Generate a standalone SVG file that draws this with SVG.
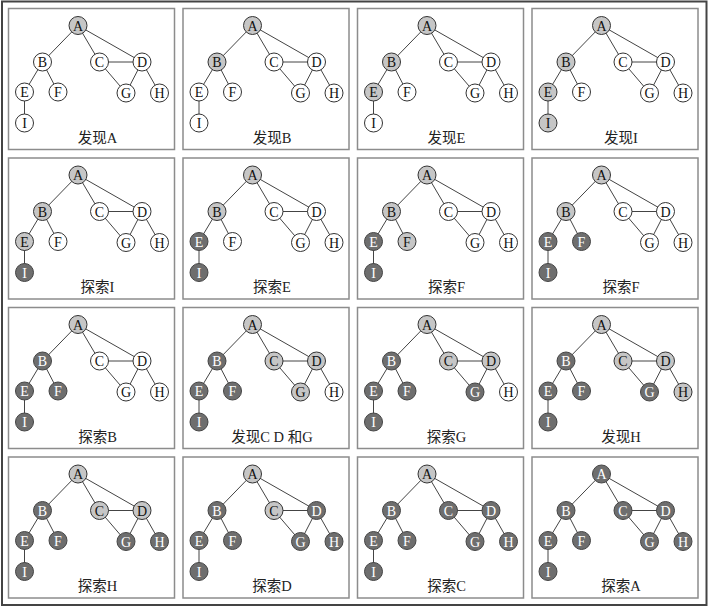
<svg xmlns="http://www.w3.org/2000/svg" xmlns:xlink="http://www.w3.org/1999/xlink" width="708" height="608" viewBox="0 0 708 608">
<style>
.frame{fill:#fff;stroke:#8c8c8c;stroke-width:1.5}
.outer{fill:#fff;stroke:#444;stroke-width:2}
.edge{stroke:#444;stroke-width:1;fill:none}
.node circle{stroke:#333;stroke-width:1;r:9px}
.w circle{fill:#fff}
.g circle{fill:#c6c6c6}
.d circle{fill:#6e6e6e;stroke:#444}
.node text{font-family:"Liberation Serif","Noto Sans CJK SC",serif;font-size:14px;text-anchor:middle}
.w text,.g text{fill:#111}
.d text{fill:#fff}
.cap{font-family:"Liberation Serif","Noto Sans CJK SC",serif;font-size:14.5px;text-anchor:middle;fill:#222}
</style>
<defs>
<g id="edges" class="edge">
<line x1="69.5" y1="17" x2="34" y2="53.5"/>
<line x1="69.5" y1="17" x2="91" y2="53.5"/>
<line x1="69.5" y1="17" x2="133.5" y2="53.5"/>
<line x1="34" y1="53.5" x2="16" y2="83.5"/>
<line x1="34" y1="53.5" x2="49.5" y2="83.5"/>
<line x1="91" y1="53.5" x2="133.5" y2="53.5"/>
<line x1="91" y1="53.5" x2="117.5" y2="84.5"/>
<line x1="133.5" y1="53.5" x2="117.5" y2="84.5"/>
<line x1="133.5" y1="53.5" x2="151" y2="84.5"/>
<line x1="16" y1="83.5" x2="16" y2="114.5"/>
</g>
</defs>
<rect class="outer" x="2" y="1.5" width="704.5" height="603.5"/>

<g id="panel1" transform="translate(8.5,8.5)">
<rect class="frame" width="166" height="141"/>
<g id="p1-edges"><use xlink:href="#edges"/></g>
<g id="p1-A" class="node g"><circle cx="69.5" cy="17" r="9"/><text x="69.5" y="22">A</text></g>
<g id="p1-B" class="node w"><circle cx="34" cy="53.5" r="9"/><text x="34" y="58.5">B</text></g>
<g id="p1-C" class="node w"><circle cx="91" cy="53.5" r="9"/><text x="91" y="58.5">C</text></g>
<g id="p1-D" class="node w"><circle cx="133.5" cy="53.5" r="9"/><text x="133.5" y="58.5">D</text></g>
<g id="p1-E" class="node w"><circle cx="16" cy="83.5" r="9"/><text x="16" y="88.5">E</text></g>
<g id="p1-F" class="node w"><circle cx="49.5" cy="83.5" r="9"/><text x="49.5" y="88.5">F</text></g>
<g id="p1-G" class="node w"><circle cx="117.5" cy="84.5" r="9"/><text x="117.5" y="89.5">G</text></g>
<g id="p1-H" class="node w"><circle cx="151" cy="84.5" r="9"/><text x="151" y="89.5">H</text></g>
<g id="p1-I" class="node w"><circle cx="16" cy="114.5" r="9"/><text x="16" y="119.5">I</text></g>
<text class="cap" x="89" y="134">发现A</text>
</g>

<g id="panel2" transform="translate(183,8.5)">
<rect class="frame" width="166" height="141"/>
<g id="p2-edges"><use xlink:href="#edges"/></g>
<g id="p2-A" class="node g"><circle cx="69.5" cy="17" r="9"/><text x="69.5" y="22">A</text></g>
<g id="p2-B" class="node g"><circle cx="34" cy="53.5" r="9"/><text x="34" y="58.5">B</text></g>
<g id="p2-C" class="node w"><circle cx="91" cy="53.5" r="9"/><text x="91" y="58.5">C</text></g>
<g id="p2-D" class="node w"><circle cx="133.5" cy="53.5" r="9"/><text x="133.5" y="58.5">D</text></g>
<g id="p2-E" class="node w"><circle cx="16" cy="83.5" r="9"/><text x="16" y="88.5">E</text></g>
<g id="p2-F" class="node w"><circle cx="49.5" cy="83.5" r="9"/><text x="49.5" y="88.5">F</text></g>
<g id="p2-G" class="node w"><circle cx="117.5" cy="84.5" r="9"/><text x="117.5" y="89.5">G</text></g>
<g id="p2-H" class="node w"><circle cx="151" cy="84.5" r="9"/><text x="151" y="89.5">H</text></g>
<g id="p2-I" class="node w"><circle cx="16" cy="114.5" r="9"/><text x="16" y="119.5">I</text></g>
<text class="cap" x="89" y="134">发现B</text>
</g>

<g id="panel3" transform="translate(357.5,8.5)">
<rect class="frame" width="166" height="141"/>
<g id="p3-edges"><use xlink:href="#edges"/></g>
<g id="p3-A" class="node g"><circle cx="69.5" cy="17" r="9"/><text x="69.5" y="22">A</text></g>
<g id="p3-B" class="node g"><circle cx="34" cy="53.5" r="9"/><text x="34" y="58.5">B</text></g>
<g id="p3-C" class="node w"><circle cx="91" cy="53.5" r="9"/><text x="91" y="58.5">C</text></g>
<g id="p3-D" class="node w"><circle cx="133.5" cy="53.5" r="9"/><text x="133.5" y="58.5">D</text></g>
<g id="p3-E" class="node g"><circle cx="16" cy="83.5" r="9"/><text x="16" y="88.5">E</text></g>
<g id="p3-F" class="node w"><circle cx="49.5" cy="83.5" r="9"/><text x="49.5" y="88.5">F</text></g>
<g id="p3-G" class="node w"><circle cx="117.5" cy="84.5" r="9"/><text x="117.5" y="89.5">G</text></g>
<g id="p3-H" class="node w"><circle cx="151" cy="84.5" r="9"/><text x="151" y="89.5">H</text></g>
<g id="p3-I" class="node w"><circle cx="16" cy="114.5" r="9"/><text x="16" y="119.5">I</text></g>
<text class="cap" x="89" y="134">发现E</text>
</g>

<g id="panel4" transform="translate(532,8.5)">
<rect class="frame" width="166" height="141"/>
<g id="p4-edges"><use xlink:href="#edges"/></g>
<g id="p4-A" class="node g"><circle cx="69.5" cy="17" r="9"/><text x="69.5" y="22">A</text></g>
<g id="p4-B" class="node g"><circle cx="34" cy="53.5" r="9"/><text x="34" y="58.5">B</text></g>
<g id="p4-C" class="node w"><circle cx="91" cy="53.5" r="9"/><text x="91" y="58.5">C</text></g>
<g id="p4-D" class="node w"><circle cx="133.5" cy="53.5" r="9"/><text x="133.5" y="58.5">D</text></g>
<g id="p4-E" class="node g"><circle cx="16" cy="83.5" r="9"/><text x="16" y="88.5">E</text></g>
<g id="p4-F" class="node w"><circle cx="49.5" cy="83.5" r="9"/><text x="49.5" y="88.5">F</text></g>
<g id="p4-G" class="node w"><circle cx="117.5" cy="84.5" r="9"/><text x="117.5" y="89.5">G</text></g>
<g id="p4-H" class="node w"><circle cx="151" cy="84.5" r="9"/><text x="151" y="89.5">H</text></g>
<g id="p4-I" class="node g"><circle cx="16" cy="114.5" r="9"/><text x="16" y="119.5">I</text></g>
<text class="cap" x="89" y="134">发现I</text>
</g>

<g id="panel5" transform="translate(8.5,158)">
<rect class="frame" width="166" height="141"/>
<g id="p5-edges"><use xlink:href="#edges"/></g>
<g id="p5-A" class="node g"><circle cx="69.5" cy="17" r="9"/><text x="69.5" y="22">A</text></g>
<g id="p5-B" class="node g"><circle cx="34" cy="53.5" r="9"/><text x="34" y="58.5">B</text></g>
<g id="p5-C" class="node w"><circle cx="91" cy="53.5" r="9"/><text x="91" y="58.5">C</text></g>
<g id="p5-D" class="node w"><circle cx="133.5" cy="53.5" r="9"/><text x="133.5" y="58.5">D</text></g>
<g id="p5-E" class="node g"><circle cx="16" cy="83.5" r="9"/><text x="16" y="88.5">E</text></g>
<g id="p5-F" class="node w"><circle cx="49.5" cy="83.5" r="9"/><text x="49.5" y="88.5">F</text></g>
<g id="p5-G" class="node w"><circle cx="117.5" cy="84.5" r="9"/><text x="117.5" y="89.5">G</text></g>
<g id="p5-H" class="node w"><circle cx="151" cy="84.5" r="9"/><text x="151" y="89.5">H</text></g>
<g id="p5-I" class="node d"><circle cx="16" cy="114.5" r="9"/><text x="16" y="119.5">I</text></g>
<text class="cap" x="89" y="134">探索I</text>
</g>

<g id="panel6" transform="translate(183,158)">
<rect class="frame" width="166" height="141"/>
<g id="p6-edges"><use xlink:href="#edges"/></g>
<g id="p6-A" class="node g"><circle cx="69.5" cy="17" r="9"/><text x="69.5" y="22">A</text></g>
<g id="p6-B" class="node g"><circle cx="34" cy="53.5" r="9"/><text x="34" y="58.5">B</text></g>
<g id="p6-C" class="node w"><circle cx="91" cy="53.5" r="9"/><text x="91" y="58.5">C</text></g>
<g id="p6-D" class="node w"><circle cx="133.5" cy="53.5" r="9"/><text x="133.5" y="58.5">D</text></g>
<g id="p6-E" class="node d"><circle cx="16" cy="83.5" r="9"/><text x="16" y="88.5">E</text></g>
<g id="p6-F" class="node w"><circle cx="49.5" cy="83.5" r="9"/><text x="49.5" y="88.5">F</text></g>
<g id="p6-G" class="node w"><circle cx="117.5" cy="84.5" r="9"/><text x="117.5" y="89.5">G</text></g>
<g id="p6-H" class="node w"><circle cx="151" cy="84.5" r="9"/><text x="151" y="89.5">H</text></g>
<g id="p6-I" class="node d"><circle cx="16" cy="114.5" r="9"/><text x="16" y="119.5">I</text></g>
<text class="cap" x="89" y="134">探索E</text>
</g>

<g id="panel7" transform="translate(357.5,158)">
<rect class="frame" width="166" height="141"/>
<g id="p7-edges"><use xlink:href="#edges"/></g>
<g id="p7-A" class="node g"><circle cx="69.5" cy="17" r="9"/><text x="69.5" y="22">A</text></g>
<g id="p7-B" class="node g"><circle cx="34" cy="53.5" r="9"/><text x="34" y="58.5">B</text></g>
<g id="p7-C" class="node w"><circle cx="91" cy="53.5" r="9"/><text x="91" y="58.5">C</text></g>
<g id="p7-D" class="node w"><circle cx="133.5" cy="53.5" r="9"/><text x="133.5" y="58.5">D</text></g>
<g id="p7-E" class="node d"><circle cx="16" cy="83.5" r="9"/><text x="16" y="88.5">E</text></g>
<g id="p7-F" class="node g"><circle cx="49.5" cy="83.5" r="9"/><text x="49.5" y="88.5">F</text></g>
<g id="p7-G" class="node w"><circle cx="117.5" cy="84.5" r="9"/><text x="117.5" y="89.5">G</text></g>
<g id="p7-H" class="node w"><circle cx="151" cy="84.5" r="9"/><text x="151" y="89.5">H</text></g>
<g id="p7-I" class="node d"><circle cx="16" cy="114.5" r="9"/><text x="16" y="119.5">I</text></g>
<text class="cap" x="89" y="134">探索F</text>
</g>

<g id="panel8" transform="translate(532,158)">
<rect class="frame" width="166" height="141"/>
<g id="p8-edges"><use xlink:href="#edges"/></g>
<g id="p8-A" class="node g"><circle cx="69.5" cy="17" r="9"/><text x="69.5" y="22">A</text></g>
<g id="p8-B" class="node g"><circle cx="34" cy="53.5" r="9"/><text x="34" y="58.5">B</text></g>
<g id="p8-C" class="node w"><circle cx="91" cy="53.5" r="9"/><text x="91" y="58.5">C</text></g>
<g id="p8-D" class="node w"><circle cx="133.5" cy="53.5" r="9"/><text x="133.5" y="58.5">D</text></g>
<g id="p8-E" class="node d"><circle cx="16" cy="83.5" r="9"/><text x="16" y="88.5">E</text></g>
<g id="p8-F" class="node d"><circle cx="49.5" cy="83.5" r="9"/><text x="49.5" y="88.5">F</text></g>
<g id="p8-G" class="node w"><circle cx="117.5" cy="84.5" r="9"/><text x="117.5" y="89.5">G</text></g>
<g id="p8-H" class="node w"><circle cx="151" cy="84.5" r="9"/><text x="151" y="89.5">H</text></g>
<g id="p8-I" class="node d"><circle cx="16" cy="114.5" r="9"/><text x="16" y="119.5">I</text></g>
<text class="cap" x="89" y="134">探索F</text>
</g>

<g id="panel9" transform="translate(8.5,307.5)">
<rect class="frame" width="166" height="141"/>
<g id="p9-edges"><use xlink:href="#edges"/></g>
<g id="p9-A" class="node g"><circle cx="69.5" cy="17" r="9"/><text x="69.5" y="22">A</text></g>
<g id="p9-B" class="node d"><circle cx="34" cy="53.5" r="9"/><text x="34" y="58.5">B</text></g>
<g id="p9-C" class="node w"><circle cx="91" cy="53.5" r="9"/><text x="91" y="58.5">C</text></g>
<g id="p9-D" class="node w"><circle cx="133.5" cy="53.5" r="9"/><text x="133.5" y="58.5">D</text></g>
<g id="p9-E" class="node d"><circle cx="16" cy="83.5" r="9"/><text x="16" y="88.5">E</text></g>
<g id="p9-F" class="node d"><circle cx="49.5" cy="83.5" r="9"/><text x="49.5" y="88.5">F</text></g>
<g id="p9-G" class="node w"><circle cx="117.5" cy="84.5" r="9"/><text x="117.5" y="89.5">G</text></g>
<g id="p9-H" class="node w"><circle cx="151" cy="84.5" r="9"/><text x="151" y="89.5">H</text></g>
<g id="p9-I" class="node d"><circle cx="16" cy="114.5" r="9"/><text x="16" y="119.5">I</text></g>
<text class="cap" x="89" y="134">探索B</text>
</g>

<g id="panel10" transform="translate(183,307.5)">
<rect class="frame" width="166" height="141"/>
<g id="p10-edges"><use xlink:href="#edges"/></g>
<g id="p10-A" class="node g"><circle cx="69.5" cy="17" r="9"/><text x="69.5" y="22">A</text></g>
<g id="p10-B" class="node d"><circle cx="34" cy="53.5" r="9"/><text x="34" y="58.5">B</text></g>
<g id="p10-C" class="node g"><circle cx="91" cy="53.5" r="9"/><text x="91" y="58.5">C</text></g>
<g id="p10-D" class="node g"><circle cx="133.5" cy="53.5" r="9"/><text x="133.5" y="58.5">D</text></g>
<g id="p10-E" class="node d"><circle cx="16" cy="83.5" r="9"/><text x="16" y="88.5">E</text></g>
<g id="p10-F" class="node d"><circle cx="49.5" cy="83.5" r="9"/><text x="49.5" y="88.5">F</text></g>
<g id="p10-G" class="node g"><circle cx="117.5" cy="84.5" r="9"/><text x="117.5" y="89.5">G</text></g>
<g id="p10-H" class="node w"><circle cx="151" cy="84.5" r="9"/><text x="151" y="89.5">H</text></g>
<g id="p10-I" class="node d"><circle cx="16" cy="114.5" r="9"/><text x="16" y="119.5">I</text></g>
<text class="cap" x="89" y="134">发现C D 和G</text>
</g>

<g id="panel11" transform="translate(357.5,307.5)">
<rect class="frame" width="166" height="141"/>
<g id="p11-edges"><use xlink:href="#edges"/></g>
<g id="p11-A" class="node g"><circle cx="69.5" cy="17" r="9"/><text x="69.5" y="22">A</text></g>
<g id="p11-B" class="node d"><circle cx="34" cy="53.5" r="9"/><text x="34" y="58.5">B</text></g>
<g id="p11-C" class="node g"><circle cx="91" cy="53.5" r="9"/><text x="91" y="58.5">C</text></g>
<g id="p11-D" class="node g"><circle cx="133.5" cy="53.5" r="9"/><text x="133.5" y="58.5">D</text></g>
<g id="p11-E" class="node d"><circle cx="16" cy="83.5" r="9"/><text x="16" y="88.5">E</text></g>
<g id="p11-F" class="node d"><circle cx="49.5" cy="83.5" r="9"/><text x="49.5" y="88.5">F</text></g>
<g id="p11-G" class="node d"><circle cx="117.5" cy="84.5" r="9"/><text x="117.5" y="89.5">G</text></g>
<g id="p11-H" class="node w"><circle cx="151" cy="84.5" r="9"/><text x="151" y="89.5">H</text></g>
<g id="p11-I" class="node d"><circle cx="16" cy="114.5" r="9"/><text x="16" y="119.5">I</text></g>
<text class="cap" x="89" y="134">探索G</text>
</g>

<g id="panel12" transform="translate(532,307.5)">
<rect class="frame" width="166" height="141"/>
<g id="p12-edges"><use xlink:href="#edges"/></g>
<g id="p12-A" class="node g"><circle cx="69.5" cy="17" r="9"/><text x="69.5" y="22">A</text></g>
<g id="p12-B" class="node d"><circle cx="34" cy="53.5" r="9"/><text x="34" y="58.5">B</text></g>
<g id="p12-C" class="node g"><circle cx="91" cy="53.5" r="9"/><text x="91" y="58.5">C</text></g>
<g id="p12-D" class="node g"><circle cx="133.5" cy="53.5" r="9"/><text x="133.5" y="58.5">D</text></g>
<g id="p12-E" class="node d"><circle cx="16" cy="83.5" r="9"/><text x="16" y="88.5">E</text></g>
<g id="p12-F" class="node d"><circle cx="49.5" cy="83.5" r="9"/><text x="49.5" y="88.5">F</text></g>
<g id="p12-G" class="node d"><circle cx="117.5" cy="84.5" r="9"/><text x="117.5" y="89.5">G</text></g>
<g id="p12-H" class="node g"><circle cx="151" cy="84.5" r="9"/><text x="151" y="89.5">H</text></g>
<g id="p12-I" class="node d"><circle cx="16" cy="114.5" r="9"/><text x="16" y="119.5">I</text></g>
<text class="cap" x="89" y="134">发现H</text>
</g>

<g id="panel13" transform="translate(8.5,457)">
<rect class="frame" width="166" height="141"/>
<g id="p13-edges"><use xlink:href="#edges"/></g>
<g id="p13-A" class="node g"><circle cx="69.5" cy="17" r="9"/><text x="69.5" y="22">A</text></g>
<g id="p13-B" class="node d"><circle cx="34" cy="53.5" r="9"/><text x="34" y="58.5">B</text></g>
<g id="p13-C" class="node g"><circle cx="91" cy="53.5" r="9"/><text x="91" y="58.5">C</text></g>
<g id="p13-D" class="node g"><circle cx="133.5" cy="53.5" r="9"/><text x="133.5" y="58.5">D</text></g>
<g id="p13-E" class="node d"><circle cx="16" cy="83.5" r="9"/><text x="16" y="88.5">E</text></g>
<g id="p13-F" class="node d"><circle cx="49.5" cy="83.5" r="9"/><text x="49.5" y="88.5">F</text></g>
<g id="p13-G" class="node d"><circle cx="117.5" cy="84.5" r="9"/><text x="117.5" y="89.5">G</text></g>
<g id="p13-H" class="node d"><circle cx="151" cy="84.5" r="9"/><text x="151" y="89.5">H</text></g>
<g id="p13-I" class="node d"><circle cx="16" cy="114.5" r="9"/><text x="16" y="119.5">I</text></g>
<text class="cap" x="89" y="134">探索H</text>
</g>

<g id="panel14" transform="translate(183,457)">
<rect class="frame" width="166" height="141"/>
<g id="p14-edges"><use xlink:href="#edges"/></g>
<g id="p14-A" class="node g"><circle cx="69.5" cy="17" r="9"/><text x="69.5" y="22">A</text></g>
<g id="p14-B" class="node d"><circle cx="34" cy="53.5" r="9"/><text x="34" y="58.5">B</text></g>
<g id="p14-C" class="node g"><circle cx="91" cy="53.5" r="9"/><text x="91" y="58.5">C</text></g>
<g id="p14-D" class="node d"><circle cx="133.5" cy="53.5" r="9"/><text x="133.5" y="58.5">D</text></g>
<g id="p14-E" class="node d"><circle cx="16" cy="83.5" r="9"/><text x="16" y="88.5">E</text></g>
<g id="p14-F" class="node d"><circle cx="49.5" cy="83.5" r="9"/><text x="49.5" y="88.5">F</text></g>
<g id="p14-G" class="node d"><circle cx="117.5" cy="84.5" r="9"/><text x="117.5" y="89.5">G</text></g>
<g id="p14-H" class="node d"><circle cx="151" cy="84.5" r="9"/><text x="151" y="89.5">H</text></g>
<g id="p14-I" class="node d"><circle cx="16" cy="114.5" r="9"/><text x="16" y="119.5">I</text></g>
<text class="cap" x="89" y="134">探索D</text>
</g>

<g id="panel15" transform="translate(357.5,457)">
<rect class="frame" width="166" height="141"/>
<g id="p15-edges"><use xlink:href="#edges"/></g>
<g id="p15-A" class="node g"><circle cx="69.5" cy="17" r="9"/><text x="69.5" y="22">A</text></g>
<g id="p15-B" class="node d"><circle cx="34" cy="53.5" r="9"/><text x="34" y="58.5">B</text></g>
<g id="p15-C" class="node d"><circle cx="91" cy="53.5" r="9"/><text x="91" y="58.5">C</text></g>
<g id="p15-D" class="node d"><circle cx="133.5" cy="53.5" r="9"/><text x="133.5" y="58.5">D</text></g>
<g id="p15-E" class="node d"><circle cx="16" cy="83.5" r="9"/><text x="16" y="88.5">E</text></g>
<g id="p15-F" class="node d"><circle cx="49.5" cy="83.5" r="9"/><text x="49.5" y="88.5">F</text></g>
<g id="p15-G" class="node d"><circle cx="117.5" cy="84.5" r="9"/><text x="117.5" y="89.5">G</text></g>
<g id="p15-H" class="node d"><circle cx="151" cy="84.5" r="9"/><text x="151" y="89.5">H</text></g>
<g id="p15-I" class="node d"><circle cx="16" cy="114.5" r="9"/><text x="16" y="119.5">I</text></g>
<text class="cap" x="89" y="134">探索C</text>
</g>

<g id="panel16" transform="translate(532,457)">
<rect class="frame" width="166" height="141"/>
<g id="p16-edges"><use xlink:href="#edges"/></g>
<g id="p16-A" class="node d"><circle cx="69.5" cy="17" r="9"/><text x="69.5" y="22">A</text></g>
<g id="p16-B" class="node d"><circle cx="34" cy="53.5" r="9"/><text x="34" y="58.5">B</text></g>
<g id="p16-C" class="node d"><circle cx="91" cy="53.5" r="9"/><text x="91" y="58.5">C</text></g>
<g id="p16-D" class="node d"><circle cx="133.5" cy="53.5" r="9"/><text x="133.5" y="58.5">D</text></g>
<g id="p16-E" class="node d"><circle cx="16" cy="83.5" r="9"/><text x="16" y="88.5">E</text></g>
<g id="p16-F" class="node d"><circle cx="49.5" cy="83.5" r="9"/><text x="49.5" y="88.5">F</text></g>
<g id="p16-G" class="node d"><circle cx="117.5" cy="84.5" r="9"/><text x="117.5" y="89.5">G</text></g>
<g id="p16-H" class="node d"><circle cx="151" cy="84.5" r="9"/><text x="151" y="89.5">H</text></g>
<g id="p16-I" class="node d"><circle cx="16" cy="114.5" r="9"/><text x="16" y="119.5">I</text></g>
<text class="cap" x="89" y="134">探索A</text>
</g>
</svg>
